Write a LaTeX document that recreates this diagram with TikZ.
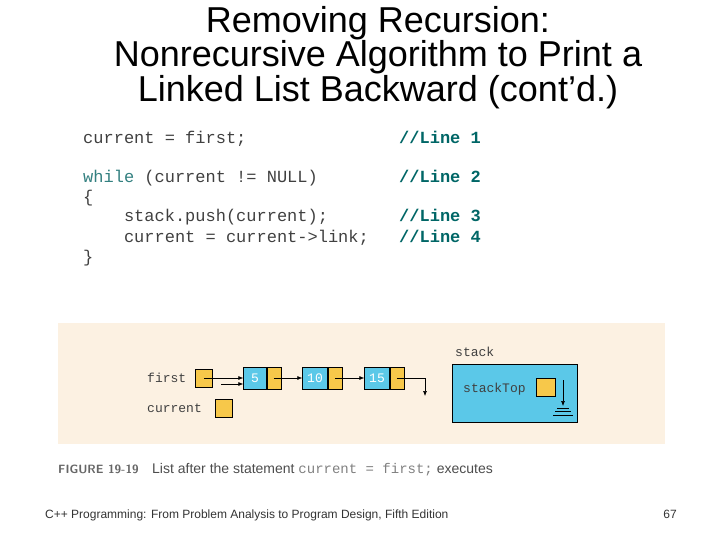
\documentclass[tikz,border=0pt]{standalone}
\usepackage{fontspec}
\usetikzlibrary{arrows.meta}
\setmainfont{Liberation Sans}
\setmonofont{Liberation Mono}
\definecolor{nb}{HTML}{5BC8E8}
\definecolor{ny}{HTML}{F7C84A}
\definecolor{bg}{HTML}{FCF1E2}
\begin{document}
\begin{tikzpicture}[x=1pt,y=-1pt,
  code/.style={anchor=base west,inner sep=0,font=\fontsize{17}{17}\selectfont\ttfamily,text=black!75},
  cmt/.style={anchor=base west,inner sep=0,font=\fontsize{17}{17}\selectfont\ttfamily\bfseries,text=teal!80!black},
  lbl/.style={anchor=base west,inner sep=0,font=\fontsize{13}{13}\selectfont\ttfamily,text=black!75},
  yb/.style={draw=black,fill=ny,minimum width=#1,minimum height=18,inner sep=0},
  bb/.style={draw=black,fill=nb,minimum width=23,minimum height=22,inner sep=0,font=\fontsize{13}{13}\selectfont\ttfamily,text=white},
  arr/.style={-{Latex[length=5pt,width=4pt]},black,semithick}]
\useasboundingbox (0,0) rectangle (720,540);
\node[font=\fontsize{36}{32.5}\selectfont,align=center,anchor=north,inner sep=0] (title) at (378,6) {Removing Recursion:\\Nonrecursive Algorithm to Print a\\Linked List Backward (cont’d.)};
\node[code] (c1) at (83,144) {current = first;};
\node[code] (c2) at (83,183) {\textcolor{teal!60!gray}{while} (current != NULL)};
\node[code] (c3) at (83,203) {\{};
\node[code] (c4) at (83,222) {\ \ \ \ stack.push(current);};
\node[code] (c5) at (83,242) {\ \ \ \ current = current->link;};
\node[code] (c6) at (83,262) {\}};
\node[cmt] (m1) at (399,144) {//Line 1};
\node[cmt] (m2) at (399,183) {//Line 2};
\node[cmt] (m3) at (399,222) {//Line 3};
\node[cmt] (m4) at (399,242) {//Line 4};
\fill[bg] (58,323) rectangle (665,444);
\node[lbl] (firstl) at (147,382) {first};
\node[yb=17,minimum height=18] (fb) at (204,378) {};
\node[lbl] (curl) at (147,412) {current};
\node[yb=17] (cb) at (224,408) {};
\node[bb] (n1) at (255,378) {5};
\node[yb=14,minimum height=22,anchor=west] (p1) at (n1.east) {};
\node[bb,minimum width=25] (n2) at (315,378) {10};
\node[yb=14,minimum height=22,anchor=west] (p2) at (n2.east) {};
\node[bb,minimum width=25] (n3) at (377,378) {15};
\node[yb=14,minimum height=22,anchor=west] (p3) at (n3.east) {};
\coordinate (ca) at (221,384);
\coordinate (nil) at (425,396);
\draw[arr] (fb.center) -- (fb.center -| n1.west);
\draw[arr] (ca) -- (ca -| n1.west);
\draw[arr] (p1.center) -- (n2.west);
\draw[arr] (p2.center) -- (n3.west);
\draw[arr] (p3.center) -| (nil);
\node[lbl] (stl) at (455,356) {stack};
\node[draw=black,fill=nb,minimum width=125,minimum height=58,inner sep=0] (st) at (514.5,393) {};
\node[lbl] (stt) at (463,392) {stackTop};
\node[yb=19] (sb) at (546,387) {};
\coordinate (gr) at (563,406);
\draw[arr] (563,380) -- (gr);
\draw (557,408) -- (569,408) (555,411.5) -- (571,411.5) (553,415) -- (573,415);
\node[anchor=base west,inner sep=0,font=\fontsize{12}{12}\selectfont\sffamily\bfseries,text=black!60] (fig) at (58,473) {FIGURE 19-19};
\node[anchor=base west,inner sep=0,font=\fontsize{14}{14}\selectfont,text=black!70] (cap) at (152,473) {List after the statement {\ttfamily\color{black!50}current = first;} executes};
\node[anchor=base west,inner sep=0,font=\fontsize{12}{12}\selectfont,text=black!80] (foot) at (45,518) {C++ Programming: From Problem Analysis to Program Design, Fifth Edition};
\node[anchor=base east,inner sep=0,font=\fontsize{12}{12}\selectfont,text=black!80] (pg) at (677,518) {67};
\end{tikzpicture}
\end{document}
